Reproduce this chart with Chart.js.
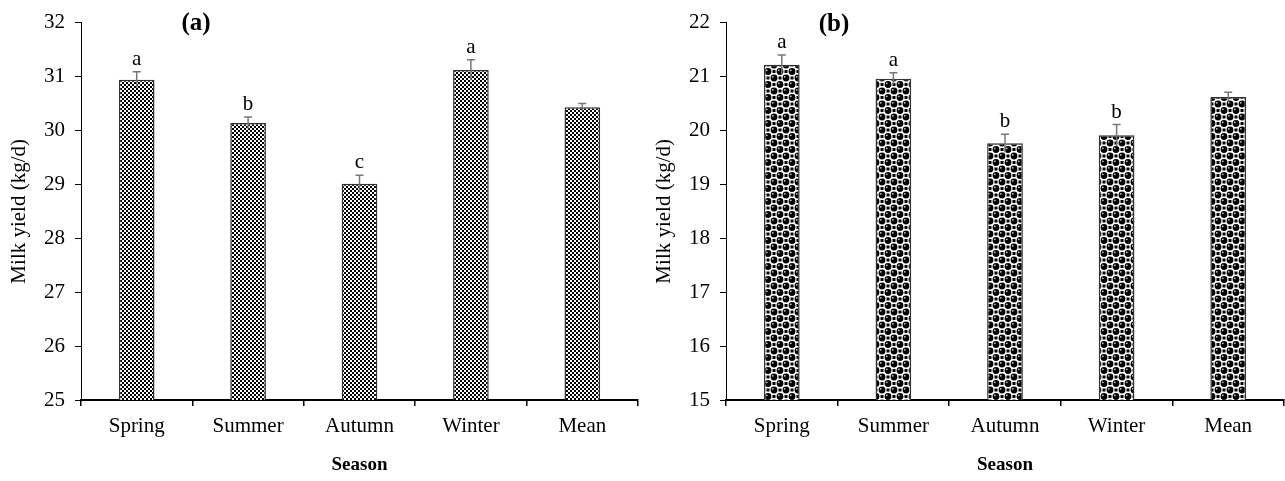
<!DOCTYPE html>
<html>
<head>
<meta charset="utf-8">
<script src="https://cdn.jsdelivr.net/npm/chart.js@4.4.1/dist/chart.umd.min.js"></script>
<style>
  html, body { margin: 0; padding: 0; background: #fff; }
  .panel { position: absolute; top: 0; height: 481px; }
  #panelA { left: 0; width: 642px; }
  #panelB { left: 642px; width: 643px; }
</style>
</head>
<body>
<div class="panel" id="panelA"><canvas id="chartA"></canvas></div>
<div class="panel" id="panelB"><canvas id="chartB"></canvas></div>
<script>
// Chart data
const seasons = ['Spring', 'Summer', 'Autumn', 'Winter', 'Mean'];

const yieldA = [30.94, 30.14, 29.01, 31.12, 30.43];
const errorA = [0.15, 0.11, 0.16, 0.19, 0.07];
const lettersA = ['a', 'b', 'c', 'a', ''];

const yieldB = [21.22, 20.96, 19.76, 19.91, 20.62];
const errorB = [0.18, 0.11, 0.17, 0.20, 0.09];
const lettersB = ['a', 'a', 'b', 'b', ''];

const serif = "'Liberation Serif', 'Times New Roman', serif";

// Checkerboard fill for panel (a)
function makeCheckerPattern() {
    const c = document.createElement('canvas');
    c.width = 4;
    c.height = 4;
    const g = c.getContext('2d');
    g.fillStyle = '#fff';
    g.fillRect(0, 0, 4, 4);
    g.fillStyle = '#000';
    g.fillRect(0, 0, 2, 2);
    g.fillRect(2, 2, 2, 2);
    return g.createPattern(c, 'repeat');
}

// Shaded balls fill for panel (b)
function makeBallPattern() {
    const w = 12, h = 13;
    const c = document.createElement('canvas');
    c.width = w;
    c.height = h;
    const g = c.getContext('2d');
    g.fillStyle = '#fff';
    g.fillRect(0, 0, w, h);
    // dark squares between the balls
    g.fillStyle = '#000';
    g.fillRect(w / 2 - 1.5, -1.5, 3, 3);
    g.fillRect(w / 2 - 1.5, h - 1.5, 3, 3);
    g.fillRect(-1.5, h / 2 - 1.5, 3, 3);
    g.fillRect(w - 1.5, h / 2 - 1.5, 3, 3);
    const centers = [[0, 0], [w, 0], [0, h], [w, h], [w / 2, h / 2]];
    centers.forEach(([cx, cy]) => {
        g.fillStyle = '#000';
        g.beginPath();
        g.arc(cx, cy, 3.4, 0, Math.PI * 2);
        g.fill();
        g.fillStyle = '#ccc';
        g.beginPath();
        g.arc(cx - 1.2, cy - 1.2, 0.9, 0, Math.PI * 2);
        g.fill();
    });
    return g.createPattern(c, 'repeat');
}

// Error bars, significance letters and panel tag
const errorBarPlugin = {
    id: 'errorBars',
    afterDatasetsDraw(chart, args, opts) {
        const ctx = chart.ctx;
        const yScale = chart.scales.y;
        const meta = chart.getDatasetMeta(0);
        const values = chart.data.datasets[0].data;
        ctx.save();
        meta.data.forEach((bar, i) => {
            const v = values[i];
            const e = opts.errors[i];
            const yTop = yScale.getPixelForValue(v + e);
            const yLow = yScale.getPixelForValue(v - e);
            ctx.strokeStyle = '#777';
            ctx.lineWidth = 1.5;
            ctx.beginPath();
            ctx.moveTo(bar.x, yLow);
            ctx.lineTo(bar.x, yTop);
            ctx.moveTo(bar.x - 4, yTop);
            ctx.lineTo(bar.x + 4, yTop);
            ctx.stroke();
            if (opts.letters[i]) {
                ctx.fillStyle = '#000';
                ctx.font = '21px ' + serif;
                ctx.textAlign = 'center';
                ctx.textBaseline = 'bottom';
                ctx.fillText(opts.letters[i], bar.x, yTop - 2);
            }
        });
        ctx.fillStyle = '#000';
        ctx.font = 'bold 25px ' + serif;
        ctx.textAlign = 'center';
        ctx.textBaseline = 'middle';
        ctx.fillText(opts.tag, opts.tagX, opts.tagY);
        ctx.restore();
    }
};

function buildChart(canvasId, values, errors, letters, fill, yMin, yMax, cfg) {
    const ctx = document.getElementById(canvasId).getContext('2d');
    return new Chart(ctx, {
        type: 'bar',
        data: {
            labels: seasons,
            datasets: [{
                data: values,
                backgroundColor: fill,
                borderColor: '#333',
                borderWidth: 1.5,
                categoryPercentage: 1,
                barPercentage: 0.32
            }]
        },
        options: {
            responsive: true,
            maintainAspectRatio: false,
            animation: false,
            layout: {
                padding: { top: 16, right: cfg.padRight, left: 0, bottom: 0 }
            },
            scales: {
                x: {
                    afterFit: scale => { scale.height = 81; },
                    grid: {
                        offset: true,
                        drawOnChartArea: false,
                        tickLength: 6,
                        color: '#000',
                        lineWidth: 1.5
                    },
                    border: { display: true, color: '#000', width: 2 },
                    ticks: {
                        color: '#000',
                        padding: 8,
                        font: { family: serif, size: 21 }
                    },
                    title: {
                        display: true,
                        text: 'Season',
                        color: '#000',
                        padding: { top: 0, bottom: 5 },
                        font: { family: serif, size: 19, weight: 'bold' }
                    }
                },
                y: {
                    min: yMin,
                    max: yMax,
                    afterFit: scale => { scale.width = cfg.axisLeft; },
                    grid: {
                        drawOnChartArea: false,
                        tickLength: 6,
                        color: '#000'
                    },
                    border: { display: true, color: '#000', width: 1 },
                    ticks: {
                        stepSize: 1,
                        color: '#000',
                        padding: 10,
                        font: { family: serif, size: 21 }
                    },
                    title: {
                        display: true,
                        text: 'Milk yield (kg/d)',
                        color: '#000',
                        padding: { top: cfg.titlePad, bottom: 0 },
                        font: { family: serif, size: 21 }
                    }
                }
            },
            plugins: {
                legend: { display: false },
                tooltip: { enabled: false },
                errorBars: {
                    errors: errors,
                    letters: letters,
                    tag: cfg.tag,
                    tagX: cfg.tagX,
                    tagY: cfg.tagY
                }
            }
        },
        plugins: [errorBarPlugin]
    });
}

buildChart('chartA', yieldA, errorA, lettersA, makeCheckerPattern(), 25, 32,
    { axisLeft: 81, padRight: 4, titlePad: 7, tag: '(a)', tagX: 196, tagY: 24 });
buildChart('chartB', yieldB, errorB, lettersB, makeBallPattern(), 15, 22,
    { axisLeft: 84, padRight: 1, titlePad: 10, tag: '(b)', tagX: 192, tagY: 25 });
</script>
</body>
</html>
